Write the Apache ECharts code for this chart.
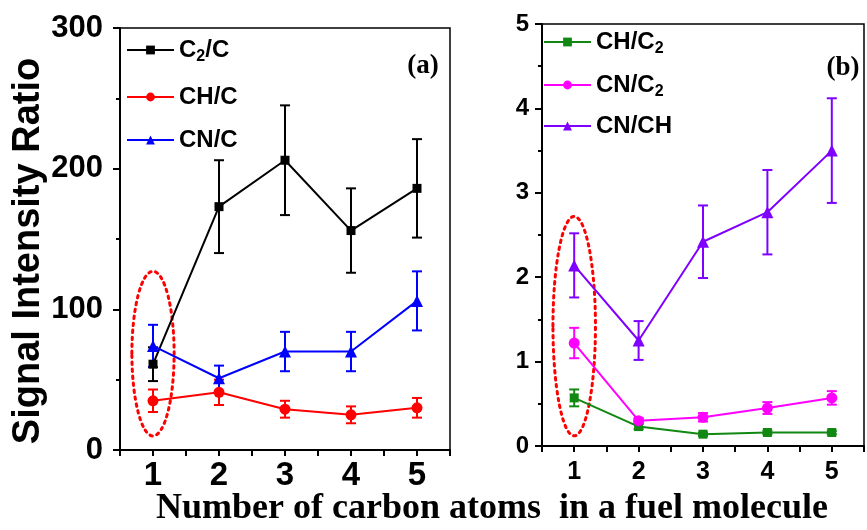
<!DOCTYPE html>
<html>
<head>
<meta charset="utf-8">
<script src="https://cdn.jsdelivr.net/npm/echarts@6/dist/echarts.min.js"></script>
<style>
  html, body { margin: 0; padding: 0; background: #fff; }
  #chart { width: 867px; height: 530px; }
</style>
</head>
<body>
<div id="chart"></div>
<script>
// carbon atoms in fuel molecule
var carbonNums = [1, 2, 3, 4, 5];

// (a) ratios to C
var c2cVals = [61, 173, 206, 156, 186];
var c2cErr  = [12, 33, 39, 30, 35];
var chcVals = [35, 41, 29, 25, 30];
var chcErr  = [8, 9, 6, 6, 7];
var cncVals = [74, 51, 70, 70, 106];
var cncErr  = [15, 9, 14, 14, 21];

// (b) ratios
var chc2Vals = [0.57, 0.23, 0.14, 0.16, 0.16];
var chc2Err  = [0.10, 0.03, 0.02, 0.02, 0.02];
var cnc2Vals = [1.22, 0.30, 0.34, 0.45, 0.57];
var cnc2Err  = [0.18, 0.03, 0.05, 0.07, 0.08];
var cnchVals = [2.14, 1.25, 2.42, 2.77, 3.50];
var cnchErr  = [0.38, 0.23, 0.43, 0.50, 0.62];

// red dotted ellipse around C1 point: [x, yLow, yHigh, halfWidth]
var ellipseA = [[1, 10, 127, 0.32]];
var ellipseB = [[1, 0.12, 2.72, 0.33]];

var chart = echarts.init(document.getElementById('chart'));

var SANS = 'Liberation Sans, Arial, sans-serif';
var SERIF = 'Liberation Serif, Times New Roman, serif';

function pairs(vals) {
    return carbonNums.map(function (x, i) { return [x, vals[i]]; });
}
function errData(vals, errs) {
    return carbonNums.map(function (x, i) { return [x, vals[i], errs[i]]; });
}

// 误差棒（竖线 + 上下横帽）
function errRender(color, cap) {
    return function (params, api) {
        var x = api.value(0), y = api.value(1), e = api.value(2);
        var top = api.coord([x, y + e]);
        var bot = api.coord([x, y - e]);
        var st = { stroke: color, lineWidth: 2 };
        return {
            type: 'group',
            children: [
                { type: 'line', shape: { x1: top[0], y1: top[1], x2: bot[0], y2: bot[1] }, style: st },
                { type: 'line', shape: { x1: top[0] - cap, y1: top[1], x2: top[0] + cap, y2: top[1] }, style: st },
                { type: 'line', shape: { x1: bot[0] - cap, y1: bot[1], x2: bot[0] + cap, y2: bot[1] }, style: st }
            ]
        };
    };
}

function ellipseRender(params, api) {
    var x = api.value(0), lo = api.value(1), hi = api.value(2), hw = api.value(3);
    var p1 = api.coord([x - hw, hi]);
    var p2 = api.coord([x + hw, lo]);
    return {
        type: 'ellipse',
        shape: { cx: (p1[0] + p2[0]) / 2, cy: (p1[1] + p2[1]) / 2, rx: (p2[0] - p1[0]) / 2, ry: (p2[1] - p1[1]) / 2 },
        style: { fill: 'none', stroke: '#ff0000', lineWidth: 3, lineDash: [2.5, 4.5], lineCap: 'round' },
        z2: 1
    };
}

function lineSeries(name, vals, color, symbol, size, xi) {
    return {
        name: name, type: 'line', xAxisIndex: xi, yAxisIndex: xi,
        data: pairs(vals), symbol: symbol, symbolSize: size,
        lineStyle: { color: color, width: 2 },
        itemStyle: { color: color },
        z: 3
    };
}

function errSeries(vals, errs, color, xi, cap) {
    return {
        type: 'custom', xAxisIndex: xi, yAxisIndex: xi,
        data: errData(vals, errs), renderItem: errRender(color, cap),
        silent: true, z: 2
    };
}

function xAxisCfg(gi, fs, margin) {
    return {
        type: 'value', gridIndex: gi, min: 0.5, max: 5.5, interval: 0.5,
        axisLine: { onZero: false, lineStyle: { color: '#000', width: 2 } },
        axisTick: { inside: false, length: 6, lineStyle: { color: '#000', width: 2 } },
        axisLabel: {
            margin: margin, color: '#000', fontSize: fs, fontWeight: 'bold', fontFamily: SANS,
            showMinLabel: true, showMaxLabel: true,
            formatter: function (v) { return Number.isInteger(v) ? String(v) : ''; }
        },
        splitLine: { show: false }
    };
}

function yAxisCfg(gi, max, step, fs, margin) {
    return {
        type: 'value', gridIndex: gi, min: 0, max: max, interval: step,
        axisLine: { show: true, onZero: false, lineStyle: { color: '#000', width: 2 } },
        axisTick: { show: true, inside: false, length: 7, lineStyle: { color: '#000', width: 2 } },
        minorTick: { show: true, splitNumber: 2, length: 4, lineStyle: { color: '#000', width: 2 } },
        axisLabel: { margin: margin, color: '#000', fontSize: fs, fontWeight: 'bold', fontFamily: SANS },
        splitLine: { show: false }
    };
}

// 图例文字：下标用 rich
function legendFmt(name) {
    var m = name.match(/^(.*C)2(.*)$/);
    if (m) {
        return '{n|' + m[1] + '}{s|2}{n|' + m[2] + '}';
    }
    return '{n|' + name + '}';
}

function legendCfg(name, left, top, fs) {
    return {
        data: [name], left: left, top: top, orient: 'vertical', padding: 0,
        selectedMode: false, itemWidth: 47, itemHeight: 11, itemGap: 4,
        formatter: legendFmt,
        textStyle: {
            color: '#000', fontFamily: SANS, fontWeight: 'bold', fontSize: fs,
            rich: {
                n: { fontSize: fs, fontWeight: 'bold', fontFamily: SANS, color: '#000', lineHeight: fs + 4 },
                s: { fontSize: Math.round(fs * 0.66), fontWeight: 'bold', fontFamily: SANS, color: '#000',
                     padding: [Math.round(fs * 0.6), 0, 0, 0], lineHeight: fs + 4 }
            }
        }
    };
}

var option = {
    backgroundColor: '#fff',
    animation: false,
    grid: [
        { left: 120, top: 28, width: 330, height: 422, show: true, borderColor: '#000', borderWidth: 1.5, backgroundColor: 'transparent' },
        { left: 542, top: 24, right: -8, height: 422, show: true, borderColor: '#000', borderWidth: 1.5, backgroundColor: 'transparent' }
    ],
    xAxis: [xAxisCfg(0, 33, 9), xAxisCfg(1, 25, 14)],
    yAxis: [yAxisCfg(0, 300, 100, 31, 17), yAxisCfg(1, 5, 1, 24, 13)],
    legend: [
        legendCfg('C2/C', 126, 35, 24),
        legendCfg('CH/C', 126, 85, 24),
        legendCfg('CN/C', 126, 128, 24),
        legendCfg('CH/C2', 543, 27, 24),
        legendCfg('CN/C2', 543, 70, 24),
        legendCfg('CN/CH', 543, 114, 24)
    ],
    graphic: [
        { type: 'text', x: 29, y: 251, rotation: Math.PI / 2,
          style: { text: 'Signal Intensity Ratio', fill: '#000', font: 'bold 38px ' + SANS, textAlign: 'center', textVerticalAlign: 'middle' } },
        { type: 'text', x: 492, y: 509,
          style: { text: 'Number of carbon atoms  in a fuel molecule', fill: '#000', font: 'bold 36px ' + SERIF, textAlign: 'center', textVerticalAlign: 'middle' } },
        { type: 'text', x: 423, y: 66,
          style: { text: '(a)', fill: '#000', font: 'bold 27px ' + SERIF, textAlign: 'center', textVerticalAlign: 'middle' } },
        { type: 'text', x: 843, y: 68,
          style: { text: '(b)', fill: '#000', font: 'bold 27px ' + SERIF, textAlign: 'center', textVerticalAlign: 'middle' } }
    ],
    series: [
        { type: 'custom', xAxisIndex: 0, yAxisIndex: 0, data: ellipseA, renderItem: ellipseRender, silent: true, z: 1 },
        { type: 'custom', xAxisIndex: 1, yAxisIndex: 1, data: ellipseB, renderItem: ellipseRender, silent: true, z: 1 },

        errSeries(c2cVals, c2cErr, '#000000', 0, 5),
        errSeries(chcVals, chcErr, '#ff0000', 0, 5),
        errSeries(cncVals, cncErr, '#0000ff', 0, 5),
        lineSeries('C2/C', c2cVals, '#000000', 'rect', 9, 0),
        lineSeries('CH/C', chcVals, '#ff0000', 'circle', 11, 0),
        lineSeries('CN/C', cncVals, '#0000ff', 'triangle', 12, 0),

        errSeries(chc2Vals, chc2Err, '#118811', 1, 5),
        errSeries(cnc2Vals, cnc2Err, '#ff00ff', 1, 5),
        errSeries(cnchVals, cnchErr, '#7f00ff', 1, 5),
        lineSeries('CH/C2', chc2Vals, '#118811', 'rect', 9, 1),
        lineSeries('CN/C2', cnc2Vals, '#ff00ff', 'circle', 11, 1),
        lineSeries('CN/CH', cnchVals, '#7f00ff', 'triangle', 12, 1)
    ]
};

chart.setOption(option);
</script>
</body>
</html>
